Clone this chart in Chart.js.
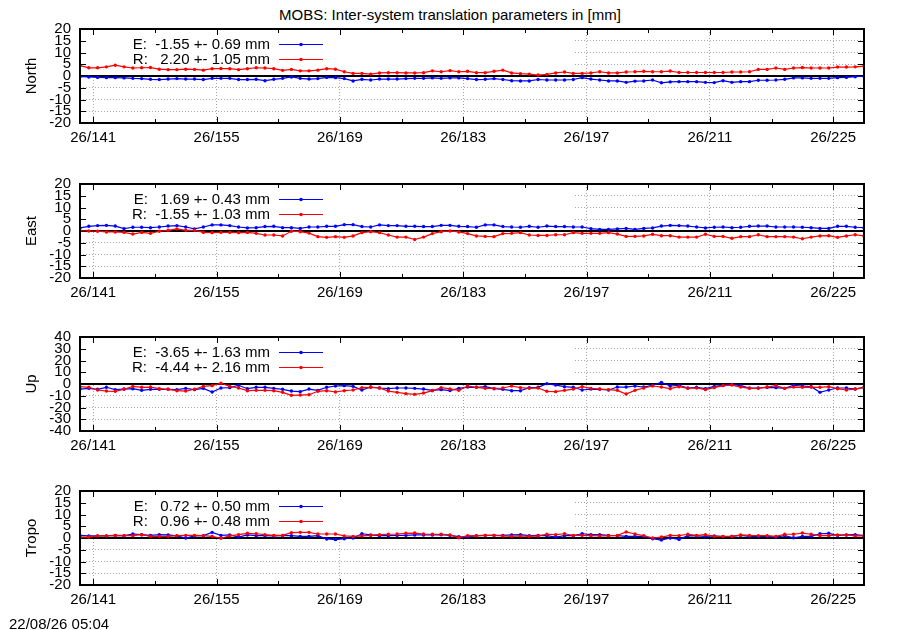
<!DOCTYPE html>
<html>
<head>
<meta charset="utf-8">
<script src="https://cdn.jsdelivr.net/npm/chart.js@4.4.0/dist/chart.umd.min.js"></script>
<style>
  body { margin: 0; background: #fff; width: 900px; height: 630px; position: relative; overflow: hidden;
         font-family: "Liberation Sans", Arial, sans-serif; color: #000; }
  canvas { position: absolute; left: 0; }
  #title { position: absolute; top: 7px; left: 0; width: 900px; text-align: center; font-size: 15px; line-height: 15px; }
  #stamp { position: absolute; left: 9px; top: 616px; font-size: 15px; line-height: 15px; }
</style>
</head>
<body>
<div id="title">MOBS: Inter-system translation parameters in [mm]</div>
<canvas id="north" width="900" height="136" style="top:19px"></canvas>
<canvas id="east" width="900" height="136" style="top:174px"></canvas>
<canvas id="up" width="900" height="136" style="top:327px"></canvas>
<canvas id="tropo" width="900" height="136" style="top:481px"></canvas>
<div id="stamp">22/08/26 05:04</div>
<script>
// day of year (noon of each day), year 2026
const days = [
  139.5, 140.5, 141.5, 142.5, 143.5, 144.5, 145.5, 146.5, 147.5, 148.5,
  149.5, 150.5, 151.5, 152.5, 153.5, 154.5, 155.5, 156.5, 157.5, 158.5,
  159.5, 160.5, 161.5, 162.5, 163.5, 164.5, 165.5, 166.5, 167.5, 168.5,
  169.5, 170.5, 171.5, 172.5, 173.5, 174.5, 175.5, 176.5, 177.5, 178.5,
  179.5, 180.5, 181.5, 182.5, 183.5, 184.5, 185.5, 186.5, 187.5, 188.5,
  189.5, 190.5, 191.5, 192.5, 193.5, 194.5, 195.5, 196.5, 197.5, 198.5,
  199.5, 200.5, 201.5, 202.5, 203.5, 204.5, 205.5, 206.5, 207.5, 208.5,
  209.5, 210.5, 211.5, 212.5, 213.5, 214.5, 215.5, 216.5, 217.5, 218.5,
  219.5, 220.5, 221.5, 222.5, 223.5, 224.5, 225.5, 226.5, 227.5, 228.5
];
const yearTag = '26';
const majorDays = [141, 155, 169, 183, 197, 211, 225];
const minorDays = [148, 162, 176, 190, 204, 218];

const northE = [
  -0.3, -0.4, -0.6, -0.7, -0.7, -0.8, -1.0, -1.1, -1.4, -1.5, -1.3, -1.1, -1.3, -1.3, -1.5, -1.0, -1.0, -1.0, -1.5, -1.5,
  -1.4, -2.0, -1.4, -1.0, -0.4, -1.0, -1.3, -1.1, -0.6, -0.7, -1.1, -2.1, -1.4, -1.7, -1.3, -1.3, -1.3, -1.1, -1.0, -1.0,
  -0.8, -1.0, -0.8, -0.8, -1.1, -1.5, -1.4, -1.1, -1.5, -2.0, -2.1, -2.1, -1.5, -1.7, -1.7, -1.7, -1.5, -0.7, -1.3, -1.7,
  -2.1, -2.1, -2.7, -2.2, -2.1, -1.7, -2.9, -2.5, -2.4, -2.4, -2.4, -2.7, -2.8, -2.0, -2.7, -2.4, -2.4, -1.8, -1.8, -1.7,
  -1.4, -0.8, -0.8, -1.0, -1.0, -1.0, -0.7, -0.6, -0.3, -0.1
];
const northR = [
  4.4, 3.5, 3.5, 3.9, 4.6, 3.9, 3.4, 3.5, 3.6, 2.9, 2.7, 2.7, 2.9, 2.8, 2.5, 3.1, 3.2, 3.1, 2.7, 3.1,
  3.5, 3.4, 3.1, 2.4, 2.8, 2.2, 2.2, 2.5, 3.1, 2.9, 1.8, 1.1, 1.1, 0.8, 1.3, 1.4, 1.4, 1.3, 1.3, 1.4,
  2.2, 1.8, 2.3, 1.8, 2.0, 1.4, 1.4, 2.0, 2.5, 1.3, 1.0, 0.8, 0.4, 0.7, 1.3, 1.7, 1.1, 1.1, 1.3, 1.8,
  1.3, 1.3, 1.7, 1.8, 2.0, 1.8, 1.8, 2.1, 1.5, 1.5, 1.5, 1.5, 1.5, 1.5, 1.7, 1.7, 1.8, 2.8, 2.8, 3.4,
  2.8, 3.4, 3.6, 3.4, 3.4, 3.4, 3.8, 3.8, 3.9, 4.2
];
const eastE = [
  1.3, 2.0, 2.3, 2.4, 2.1, 1.0, 1.6, 1.6, 1.4, 1.7, 2.1, 2.3, 1.7, 0.9, 1.7, 2.6, 2.6, 2.3, 1.7, 1.3,
  1.4, 1.9, 2.0, 1.4, 1.4, 1.1, 1.7, 1.7, 2.0, 2.0, 2.7, 2.7, 1.9, 1.7, 2.6, 2.3, 2.3, 2.0, 2.0, 1.9,
  1.9, 2.4, 2.4, 2.0, 1.9, 1.6, 2.6, 2.6, 1.9, 1.7, 1.6, 2.0, 1.6, 2.1, 1.9, 1.9, 1.7, 1.7, 1.0, 0.7,
  0.7, 0.9, 1.1, 0.7, 1.1, 1.3, 2.1, 2.4, 2.3, 2.1, 1.7, 1.3, 1.6, 1.7, 1.4, 1.6, 2.0, 2.1, 2.1, 1.7,
  1.7, 1.7, 1.6, 1.4, 1.1, 1.1, 2.0, 2.0, 1.6, 1.4
];
const eastR = [
  0.1, 0.0, -0.1, -0.4, -0.4, -0.6, -1.3, -0.6, -1.0, -0.1, 0.3, 0.9, 0.3, 0.3, -0.6, -0.7, -0.6, -0.6, -0.7, -0.6,
  -1.0, -1.7, -1.7, -2.1, -0.1, -0.3, -0.9, -2.4, -2.7, -2.4, -2.7, -2.1, -0.7, -0.3, -0.7, -1.7, -2.6, -2.6, -3.6, -2.6,
  -1.1, -0.3, 0.0, -0.4, -1.1, -2.1, -2.3, -2.4, -1.1, -1.0, -0.7, -1.7, -1.9, -1.9, -1.6, -1.6, -0.7, -1.0, -1.0, -1.0,
  -0.7, -1.3, -2.3, -2.3, -2.1, -1.4, -2.0, -2.0, -2.6, -2.6, -2.6, -1.4, -2.3, -2.3, -3.1, -2.4, -2.4, -1.6, -2.4, -2.4,
  -2.4, -2.6, -3.3, -2.6, -2.1, -2.0, -2.7, -2.1, -1.6, -2.1
];
const upE = [
  -4.3, -3.7, -4.5, -2.8, -4.8, -4.3, -4.0, -5.4, -4.5, -4.5, -4.5, -4.8, -3.7, -4.8, -3.7, -6.8, -3.4, -3.1, -1.1, -4.0,
  -2.8, -2.8, -3.7, -4.5, -6.0, -6.5, -4.3, -5.4, -2.8, -1.7, -1.4, -2.0, -5.1, -2.6, -3.4, -4.0, -3.4, -3.4, -3.7, -4.3,
  -5.4, -4.8, -5.6, -3.7, -2.6, -2.8, -2.3, -4.0, -4.5, -5.7, -5.7, -3.1, -2.8, 0.3, -0.9, -2.3, -2.8, -5.1, -4.3, -4.5,
  -5.1, -2.6, -2.6, -1.7, -2.6, -1.1, 1.4, -1.7, -1.1, -3.4, -2.8, -4.0, -2.0, -1.1, -0.3, -1.4, -3.4, -3.4, -2.8, -3.1,
  -3.7, -1.1, -1.7, -2.3, -7.1, -5.1, -3.4, -3.4, -4.3, -2.8
];
const upR = [
  -2.3, -2.8, -5.1, -6.0, -6.2, -4.5, -2.0, -2.8, -2.6, -4.0, -4.5, -5.7, -6.0, -4.5, -2.0, -1.4, 0.6, -2.0, -3.4, -5.7,
  -5.4, -5.4, -5.7, -7.1, -9.6, -9.4, -9.1, -6.2, -5.7, -6.8, -5.7, -5.1, -3.1, -2.8, -3.4, -6.0, -7.1, -8.2, -8.8, -7.7,
  -5.7, -3.1, -4.2, -5.4, -1.7, -2.8, -3.7, -3.7, -3.4, -1.7, -3.1, -3.7, -3.4, -6.2, -6.5, -5.4, -4.3, -2.3, -3.7, -4.3,
  -4.8, -5.4, -8.5, -5.4, -3.4, -1.7, -2.6, -4.0, -2.3, -3.7, -3.4, -4.8, -3.1, -1.4, -0.9, -2.6, -3.7, -3.7, -2.6, -1.4,
  -3.7, -2.6, -2.8, -2.6, -2.8, -2.3, -4.0, -5.1, -4.3, -2.8
];
const tropoE = [
  1.1, 0.9, 0.9, 0.9, 1.1, 1.0, 1.7, 1.4, 1.1, 1.4, 1.3, 0.9, 0.0, 0.9, 1.0, 2.4, 1.1, 1.3, 0.4, 1.3,
  1.0, 1.0, 0.9, 1.0, 1.0, 0.7, 0.7, 1.0, -0.4, -0.7, -0.3, 0.0, 1.8, 1.3, 1.0, 1.0, 1.1, 1.1, 1.3, 1.3,
  1.3, 1.4, 1.1, 0.6, 0.4, 1.0, 1.1, 1.1, 1.1, 1.3, 1.4, 1.0, 1.1, 1.0, 0.4, 1.0, 1.0, 1.8, 1.4, 1.4,
  1.1, 1.0, 0.7, 0.7, 0.7, -0.3, -0.9, 0.0, -0.6, 1.0, 0.9, 0.7, 0.9, 0.6, 0.7, 1.1, 0.7, 0.7, 0.7, 0.4,
  1.0, 0.1, 0.7, 0.7, 1.8, 2.0, 1.1, 1.3, 1.4, 1.0
];
const tropoR = [
  0.4, 0.4, 0.9, 0.9, 1.1, 1.0, 1.0, 1.4, 0.7, 0.7, 0.7, 1.0, 1.1, 1.1, 1.0, 0.7, -0.1, 0.9, 1.4, 2.0,
  1.8, 1.4, 1.1, 1.1, 2.3, 2.4, 2.4, 1.7, 1.7, 1.7, 0.9, 0.7, 0.9, 1.1, 1.4, 1.6, 1.7, 2.0, 2.1, 1.7,
  1.6, 1.6, 1.3, 0.1, 1.0, 0.9, 1.1, 1.1, 0.9, 0.7, 0.9, 0.7, 0.9, 1.6, 1.4, 1.8, 1.1, 1.1, 1.0, 0.9,
  0.9, 1.1, 2.6, 1.7, 1.0, 0.0, 0.4, 1.1, 1.0, 1.6, 1.1, 1.4, 0.7, 0.7, 0.7, 1.3, 1.1, 1.0, 1.0, 0.7,
  1.6, 1.6, 2.1, 1.6, 1.0, 1.0, 1.3, 1.3, 0.9, 0.9
];

const northKey = ['E:  -1.55 +- 0.69 mm', 'R:   2.20 +- 1.05 mm'];
const eastKey  = ['E:   1.69 +- 0.43 mm', 'R:  -1.55 +- 1.03 mm'];
const upKey    = ['E:  -3.65 +- 1.63 mm', 'R:  -4.44 +- 2.16 mm'];
const tropoKey = ['E:   0.72 +- 0.50 mm', 'R:   0.96 +- 0.48 mm'];

const BLUE = '#0000ff';
const RED = '#ff0000';
const GRID = '#a8a8a8';
const FONT = { family: '"Liberation Sans", Arial, sans-serif', size: 15 };
const KEY_RIGHT = 573;   // right edge of the key area that hides the grid

function line(ctx, x1, y1, x2, y2) {
  ctx.beginPath();
  ctx.moveTo(x1, y1);
  ctx.lineTo(x2, y2);
  ctx.stroke();
}

const gnuFrame = {
  id: 'gnuFrame',
  beforeDatasetsDraw(chart) {
    const { ctx, chartArea: a, scales: { x, y } } = chart;
    const y0 = y.getPixelForValue(0);
    ctx.save();
    // key area: grid hidden behind it
    ctx.fillStyle = '#fff';
    ctx.fillRect(a.left + 1, a.top + 1, KEY_RIGHT - a.left - 1, y0 - 2 - a.top);
    // zero axis
    ctx.strokeStyle = '#000';
    ctx.lineWidth = 2;
    line(ctx, a.left, y0, a.right, y0);
    // inward tick marks on all four sides
    ctx.lineWidth = 1;
    x.ticks.forEach(t => {
      const px = Math.round(x.getPixelForValue(t.value)) + 0.5;
      const len = majorDays.includes(t.value) ? 6 : 4;
      line(ctx, px, a.top, px, a.top + len);
      line(ctx, px, a.bottom, px, a.bottom - len);
    });
    y.ticks.forEach(t => {
      if (t.value === y.min || t.value === y.max) return;
      const py = Math.round(y.getPixelForValue(t.value)) + 0.5;
      line(ctx, a.left, py, a.left + 6, py);
      line(ctx, a.right, py, a.right - 6, py);
    });
    ctx.restore();
  },
  afterDatasetsDraw(chart, args, opts) {
    const { ctx, chartArea: a } = chart;
    ctx.save();
    ctx.strokeStyle = '#000';
    ctx.lineWidth = 2;
    ctx.strokeRect(a.left, a.top, a.right - a.left, a.bottom - a.top);
    // key
    ctx.font = FONT.size + 'px ' + FONT.family;
    ctx.textAlign = 'right';
    ctx.textBaseline = 'middle';
    opts.labels.forEach((txt, i) => {
      const ky = a.top + 15.5 + i * 15;
      ctx.fillStyle = '#000';
      ctx.fillText(txt, 270, ky);
      ctx.strokeStyle = opts.colors[i];
      ctx.fillStyle = opts.colors[i];
      ctx.lineWidth = 1.2;
      line(ctx, 279, ky, 323, ky);
      ctx.beginPath();
      ctx.arc(301, ky, 1.8, 0, Math.PI * 2);
      ctx.fill();
    });
    ctx.restore();
  }
};

function makePanel(id, title, yMax, yStep, eVals, rVals, keyLabels) {
  new Chart(document.getElementById(id), {
    type: 'line',
    data: {
      datasets: [
        { data: days.map((d, i) => ({ x: d, y: eVals[i] })), borderColor: BLUE, backgroundColor: BLUE, order: 2 },
        { data: days.map((d, i) => ({ x: d, y: rVals[i] })), borderColor: RED, backgroundColor: RED, order: 1 }
      ]
    },
    options: {
      responsive: false,
      animation: false,
      events: [],
      layout: { padding: { left: 0, right: 36, top: 10, bottom: 0 } },
      elements: {
        line: { borderWidth: 1.2, tension: 0 },
        point: { radius: 1.7, borderWidth: 0 }
      },
      plugins: {
        legend: { display: false },
        tooltip: { enabled: false },
        gnuFrame: { labels: keyLabels, colors: [BLUE, RED] }
      },
      scales: {
        x: {
          type: 'linear',
          min: days[0],
          max: days[days.length - 1],
          afterBuildTicks: s => {
            s.ticks = majorDays.concat(minorDays).sort((a, b) => a - b).map(v => ({ value: v }));
          },
          afterFit: s => { s.height = 32; s.paddingLeft = 0; s.paddingRight = 0; },
          ticks: {
            autoSkip: false, maxRotation: 0, padding: 6, color: '#000', font: FONT,
            callback: v => majorDays.includes(v) ? yearTag + '/' + v : ''
          },
          grid: {
            drawTicks: false, lineWidth: 1,
            color: c => (c.tick && majorDays.includes(c.tick.value)) ? GRID : 'rgba(0,0,0,0)'
          },
          border: { display: false, dash: [1, 2] }
        },
        y: {
          min: -yMax,
          max: yMax,
          afterFit: s => { s.width = 80; s.paddingTop = 0; s.paddingBottom = 0; },
          ticks: { stepSize: yStep, autoSkip: false, padding: 9, color: '#000', font: FONT },
          title: { display: true, text: title, color: '#000', font: FONT, padding: { top: 22.5, bottom: 0 } },
          grid: {
            drawTicks: false, lineWidth: 1,
            color: c => (!c.tick || c.tick.value === 0 || Math.abs(c.tick.value) === yMax) ? 'rgba(0,0,0,0)' : GRID
          },
          border: { display: false, dash: [1, 2] }
        }
      }
    },
    plugins: [gnuFrame]
  });
}

makePanel('north', 'North', 20, 5, northE, northR, northKey);
makePanel('east', 'East', 20, 5, eastE, eastR, eastKey);
makePanel('up', 'Up', 40, 10, upE, upR, upKey);
makePanel('tropo', 'Tropo', 20, 5, tropoE, tropoR, tropoKey);
</script>
</body>
</html>
